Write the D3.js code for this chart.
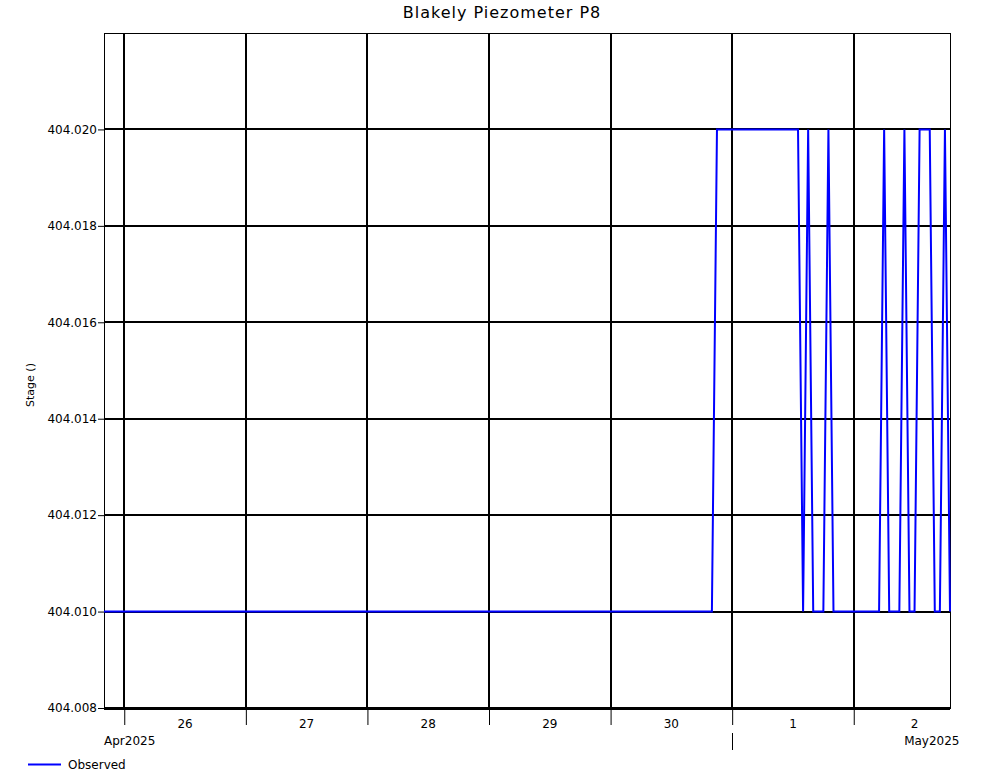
<!DOCTYPE html>
<html lang='en'>
<head>
    <meta charset='UTF-8'>
    <title>Blakely Piezometer P8</title>
    <style>
        body {
            margin: 0;
            background: #fff;
        }

        svg text {
            font-family: 'DejaVu Sans', Verdana, sans-serif;
            font-size: 12px;
            fill: #000;
        }

        .grid line {
            stroke: #000;
            stroke-width: 2px;
            shape-rendering: crispEdges;
        }
    </style>
</head>
<body>
    <div id="chart"></div>
    <script src='https://d3js.org/d3.v7.min.js'></script>
    <script>
        // hourly readings, only the points where the trace turns
        const times = [
            '2025-04-25 20:00', '2025-04-30 20:00', '2025-04-30 21:00', '2025-05-01 13:00',
            '2025-05-01 14:00', '2025-05-01 15:00', '2025-05-01 16:00', '2025-05-01 18:00',
            '2025-05-01 19:00', '2025-05-01 20:00', '2025-05-02 05:00', '2025-05-02 06:00',
            '2025-05-02 07:00', '2025-05-02 09:00', '2025-05-02 10:00', '2025-05-02 11:00',
            '2025-05-02 12:00', '2025-05-02 13:00', '2025-05-02 15:00', '2025-05-02 16:00',
            '2025-05-02 17:00', '2025-05-02 18:00', '2025-05-02 19:00'
        ]
        const stage = [
            404.010, 404.010, 404.020, 404.020,
            404.010, 404.020, 404.010, 404.010,
            404.020, 404.010, 404.010, 404.020,
            404.010, 404.010, 404.020, 404.010,
            404.010, 404.020, 404.020, 404.010,
            404.010, 404.020, 404.010
        ]
        const yTicks = [404.008, 404.010, 404.012, 404.014, 404.016, 404.018, 404.020]
        const yDomain = [404.008, 404.022]
        const months = [
            { label: 'Apr2025', start: '2025-04-01 00:00' },
            { label: 'May2025', start: '2025-05-01 00:00' }
        ]

        const width = 1001
        const height = 780
        const margin = { top: 33, right: 51, bottom: 72, left: 104 }

        const parse = d3.timeParse('%Y-%m-%d %H:%M')
        const data = times.map((t, i) => ({ t: parse(t), v: stage[i] }))

        const x = d3.scaleTime()
            .domain(d3.extent(data, d => d.t))
            .range([margin.left, width - margin.right])
        const y = d3.scaleLinear()
            .domain(yDomain)
            .range([height - margin.bottom, margin.top])

        const svg = d3.select('#chart')
            .append('svg')
            .attr('width', width)
            .attr('height', height)

        const x0 = margin.left
        const x1 = width - margin.right
        const y0 = height - margin.bottom
        const y1 = margin.top

        // plot frame
        svg.append('rect')
            .attr('x', x0 + 0.5)
            .attr('y', y1 + 0.5)
            .attr('width', x1 - x0)
            .attr('height', y0 - y1)
            .attr('fill', 'none')
            .attr('stroke', '#000')
            .attr('stroke-width', 1)

        const days = d3.timeDay.range(d3.timeDay.ceil(x.domain()[0]), x.domain()[1])

        // grid
        const grid = svg.append('g').attr('class', 'grid')
        grid.selectAll('.vgrid')
            .data(days)
            .join('line')
            .attr('class', 'vgrid')
            .attr('x1', d => Math.round(x(d)))
            .attr('x2', d => Math.round(x(d)))
            .attr('y1', y1)
            .attr('y2', y0)
        grid.selectAll('.hgrid')
            .data(yTicks)
            .join('line')
            .attr('class', 'hgrid')
            .attr('x1', x0)
            .attr('x2', x1)
            .attr('y1', d => Math.round(y(d)))
            .attr('y2', d => Math.round(y(d)))
            .style('stroke-width', d => d === yDomain[0] ? 3 : 2)

        // y axis
        const yAxis = d3.axisLeft(y)
            .tickValues(yTicks)
            .tickFormat(d3.format('.3f'))
            .tickSize(6)
            .tickSizeOuter(0)
        const yg = svg.append('g')
            .attr('transform', `translate(${x0},0)`)
            .call(yAxis)
        yg.select('.domain').remove()
        yg.selectAll('.tick line').attr('stroke', '#000')
        yg.selectAll('.tick text')
            .attr('x', -7)
            .style('font-family', "'DejaVu Sans', Verdana, sans-serif")
            .style('font-size', '12px')

        svg.append('text')
            .attr('transform', `translate(34,385) rotate(-90)`)
            .attr('text-anchor', 'middle')
            .style('font-size', '11px')
            .text('Stage ()')

        // x axis: day ticks, labels centred on noon
        const xAxis = d3.axisBottom(x)
            .tickValues(days)
            .tickFormat('')
            .tickSize(17)
            .tickSizeOuter(0)
        const xg = svg.append('g')
            .attr('transform', `translate(0,${y0})`)
            .call(xAxis)
        xg.select('.domain').remove()
        xg.selectAll('.tick line').attr('stroke', '#000')

        const noons = d3.timeDay.range(d3.timeDay.floor(x.domain()[0]), x.domain()[1])
            .map(d => d3.timeHour.offset(d, 12))
            .filter(d => d >= x.domain()[0] && d <= x.domain()[1])
        svg.append('g')
            .selectAll('text')
            .data(noons)
            .join('text')
            .attr('x', d => x(d))
            .attr('y', y0 + 20)
            .attr('text-anchor', 'middle')
            .text(d => d3.timeFormat('%-d')(d))

        // month row
        const monthData = months.map(m => ({ label: m.label, t: parse(m.start) }))
        svg.append('text')
            .attr('x', x0)
            .attr('y', y0 + 37)
            .text(monthData[0].label)
        svg.append('text')
            .attr('x', x(monthData[1].t) + 172)
            .attr('y', y0 + 37)
            .text(monthData[1].label)
        svg.append('line')
            .attr('x1', Math.round(x(monthData[1].t)) + 0.5)
            .attr('x2', Math.round(x(monthData[1].t)) + 0.5)
            .attr('y1', y0 + 25)
            .attr('y2', y0 + 42)
            .attr('stroke', '#000')

        // observed series
        const line = d3.line()
            .x(d => x(d.t))
            .y(d => y(d.v))
        svg.append('path')
            .datum(data)
            .attr('d', line)
            .attr('fill', 'none')
            .attr('stroke', '#0000ff')
            .attr('stroke-width', 2)

        // title
        svg.append('text')
            .attr('x', 502)
            .attr('y', 18)
            .attr('text-anchor', 'middle')
            .style('font-size', '16px')
            .style('letter-spacing', '1px')
            .text('Blakely Piezometer P8')

        // legend
        svg.append('line')
            .attr('x1', 28)
            .attr('x2', 61)
            .attr('y1', 764.5)
            .attr('y2', 764.5)
            .attr('stroke', '#0000ff')
            .attr('stroke-width', 2)
        svg.append('text')
            .attr('x', 68)
            .attr('y', 769)
            .text('Observed')
    </script>
</body>
</html>
